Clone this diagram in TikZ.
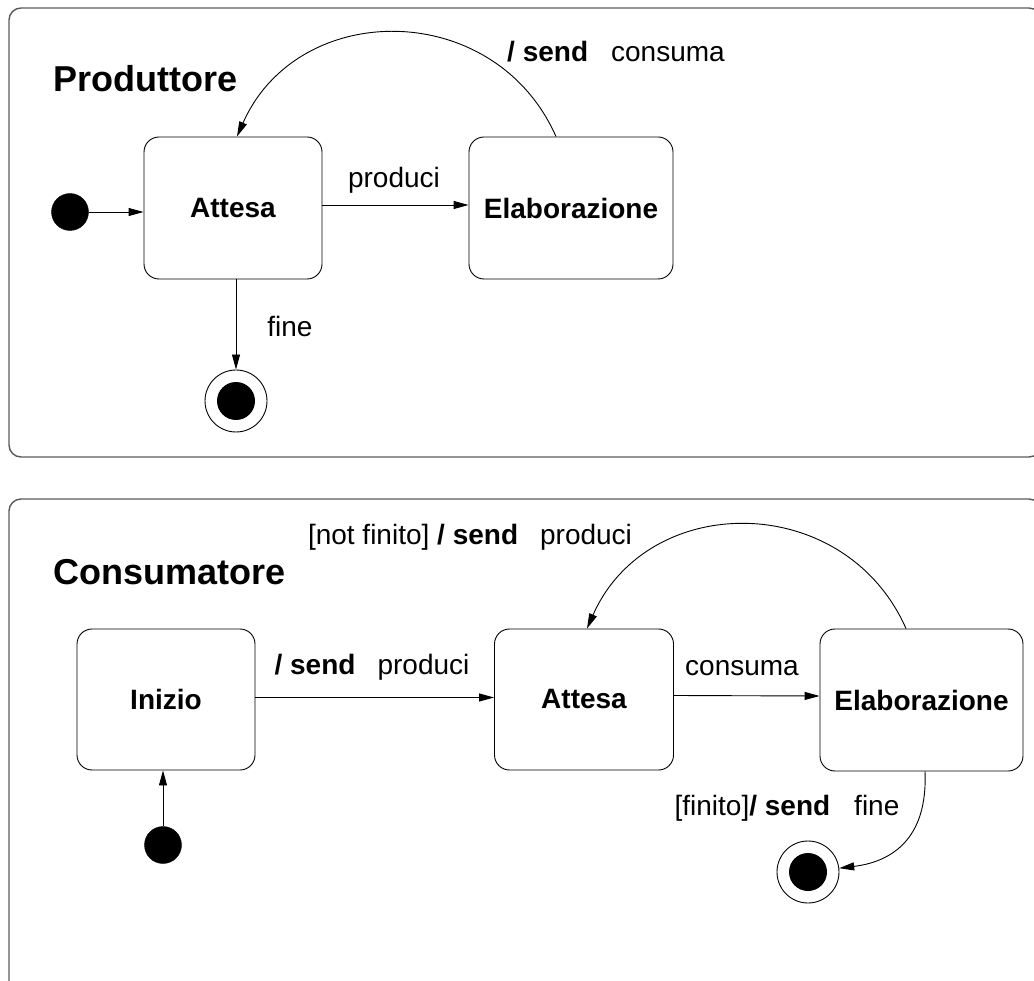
\documentclass[tikz,border=0pt]{standalone}
\usepackage{fontspec}
\setmainfont{Liberation Sans}
\usetikzlibrary{arrows.meta,calc}
\definecolor{framegray}{HTML}{5A5A5A}
\begin{document}
\begin{tikzpicture}[x=1pt,y=-1pt,
  every node/.style={font=\fontsize{28}{32}\selectfont},
  frame/.style={draw=framegray,line width=1.4pt,rounded corners=12pt},
  title/.style={font=\fontsize{36}{40}\selectfont\bfseries},
  statebox/.style={draw,line width=0.9pt,rounded corners=15pt,inner sep=0pt,
    font=\fontsize{28}{32}\selectfont\bfseries},
  initstate/.style={circle,fill=black,draw=black,minimum size=37pt,inner sep=0pt},
  finalstate/.style={circle,draw,line width=0.9pt,minimum size=62pt,inner sep=0pt,
    path picture={\fill[black] (path picture bounding box.center) circle (19pt);}},
  lbl/.style={inner sep=0pt},
  arr/.style={line width=0.9pt,-{Triangle[length=15pt,width=8pt]}}
]
\useasboundingbox (0,0) rectangle (1034,981);

% --- frames of the two machines
\draw[frame] (9,8) rectangle (1041,457);
\draw[frame] (9,499) rectangle (1041,995);

% --- Produttore
\node[title,anchor=west] (ptitle) at (50,79) {Produttore};
\node[initstate] (pInit) at (70,212) {};
\node[statebox,minimum width=178pt,minimum height=142pt] (pA) at (233,208) {Attesa};
\node[statebox,minimum width=204pt,minimum height=142pt] (pE) at (571,208) {Elaborazione};
\node[finalstate] (pF) at (236,401) {};

\draw[arr] (pInit) -- (pInit -| pA.west);
\draw[arr] ([yshift=3pt]pA.east) -- ([yshift=3pt]pE.west);
\draw[arr] (pF |- pA.south) -- (pF);
\draw[arr] ([xshift=-15pt]pE.north) .. controls +(-61,-138) and +(61,-138) .. ([xshift=4pt]pA.north);

\node[lbl] (lprod) at (394,180) {produci};
\node[lbl] (lfine) at (290,326) {fine};
\node[lbl] (lcons) at (616,52) {\textbf{/ send}\hspace{23pt}consuma};

% --- Consumatore
\node[title,anchor=west] (ctitle) at (50,572) {Consumatore};
\node[statebox,minimum width=178pt,minimum height=141pt] (cI) at (166,699.5) {Inizio};
\node[initstate] (cInit) at (163,845) {};
\node[statebox,minimum width=179pt,minimum height=141pt] (cA) at (584,699.5) {Attesa};
\node[statebox,minimum width=203pt,minimum height=142pt] (cE) at (921.5,700) {Elaborazione};
\node[finalstate] (cF) at (808,872) {};

\draw[arr] (cInit) -- (cInit |- cI.south);
\draw[arr] ([yshift=2pt]cI.east) -- ([yshift=2pt]cA.west);
\draw[arr] ([yshift=4pt]cA.east) -- ([yshift=4pt]cE.west);
\draw[arr] ([xshift=-15.5pt]cE.north) .. controls +(-61,-138) and +(61,-138) .. ([xshift=3pt]cA.north);
\draw[arr] ([xshift=3.5pt]cE.south) .. controls +(3,69) and +(82,-10) .. (cF);

\node[lbl] (lsend) at (372,667) {\textbf{/ send}\hspace{22pt}produci};
\node[lbl] (lcons2) at (742,668) {consuma};
\node[lbl] (lnot) at (470,537) {[not finito] \textbf{/ send}\hspace{22pt}produci};
\node[lbl] (lfin) at (787,808) {[finito]\textbf{/ send}\hspace{24pt}fine};
\end{tikzpicture}
\end{document}
